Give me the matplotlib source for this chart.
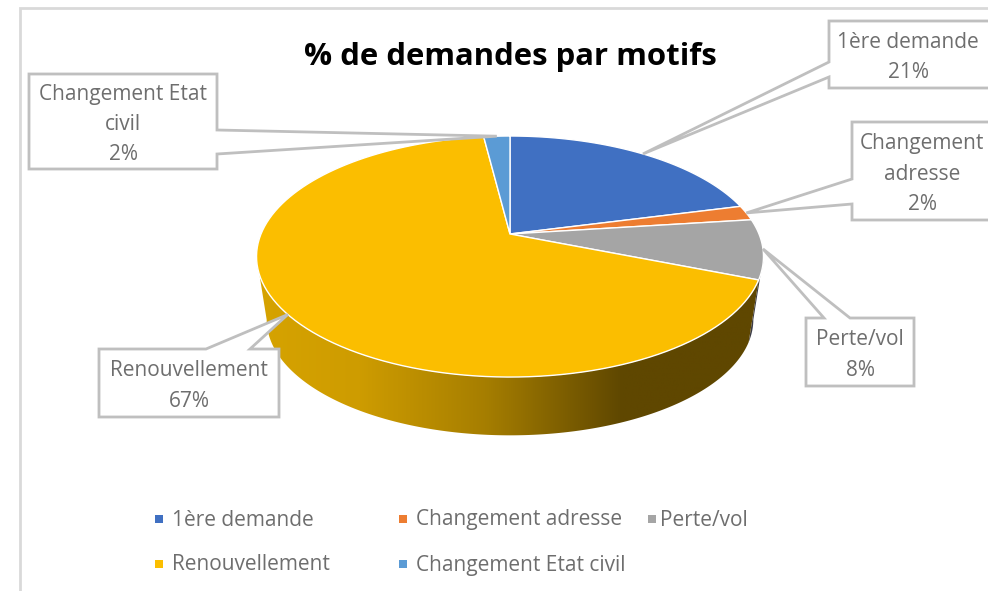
import numpy as np
import matplotlib
matplotlib.use("Agg")
import matplotlib.pyplot as plt
from matplotlib.patches import Polygon, Rectangle
from matplotlib.colors import LinearSegmentedColormap

plt.rcParams["font.family"] = ["Open Sans", "DejaVu Sans"]

# ====== data ======
categories = ["1ère demande", "Changement adresse", "Perte/vol", "Renouvellement", "Changement Etat civil"]
values = [21, 2, 8, 67, 2]
colors = ["#4070C2", "#ED7D31", "#A5A5A5", "#FBBE00", "#5B9BD5"]
side_colors = ["#2A4A80", "#8A4A1A", "#3C3C46", None, "#35597A"]
title = "% de demandes par motifs"

# ====== layout, in pixels of the picture ======
W, H = 988, 591
APEX_X, APEX_Y = 510, 234
RX, RY, PERSP = 249, 116.3, 0.187
SIDE_SCALE, SIDE_DROP = 0.96, 64
TEXT_GREY = "#6E6E6E"
BOX_GREY = "#BFBFBF"

# label box: left, right, top, bottom, pointer base (side, start, end)
boxes = [
    (829, 990, 21, 88, "left", 62, 77, ["1ère demande", "21%"]),
    (852, 995, 122, 220, "left", 179, 204, ["Changement", "adresse", "2%"]),
    (806, 914, 318, 386, "top", 824, 850, ["Perte/vol", "8%"]),
    (99, 279, 349, 417, "top", 206, 250, ["Renouvellement", "67%"]),
    (29, 217, 74, 169, "right", 130, 154, ["Changement Etat", "civil", "2%"]),
]
# legend: marker x, text x, row y
legend_pos = [(155, 172, 520), (399, 416, 520), (648, 660, 520), (155, 172, 565), (399, 416, 565)]


def rim(angle_deg):
    # pie rim in perspective, angle clockwise from the top
    a = np.deg2rad(angle_deg)
    u, v = np.sin(a), np.cos(a)
    d = 1 + PERSP * v
    return RX * u / d, RY * v / d


def top_xy(angle_deg):
    x, y = rim(angle_deg)
    return APEX_X + x, APEX_Y - y


def bottom_xy(angle_deg):
    x, y = rim(angle_deg)
    return APEX_X + SIDE_SCALE * x, APEX_Y - SIDE_SCALE * y + SIDE_DROP


fig = plt.figure(figsize=(W / 100, H / 100), dpi=100)
ax = fig.add_axes([0, 0, 1, 1])

# chart frame, open on the right and at the bottom
ax.plot([20, 20, W], [H, 8, 8], color="#D9D9D9", lw=2, solid_joinstyle="miter", zorder=1)

fracs = np.array(values) / sum(values) * 360
stops = np.concatenate([[0], np.cumsum(fracs)])

gold = LinearSegmentedColormap.from_list(
    "gold", [(0, "#D6A300"), (0.2, "#CE9C00"), (0.45, "#A67E00"), (0.72, "#5F4700"), (1, "#5F4700")]
)

# side wall, visible between the two widest points of the rim
wide_right = np.degrees(np.arccos(-PERSP))
wide_left = 360 - wide_right
for i in range(len(values)):
    start, end = max(stops[i], wide_right), min(stops[i + 1], wide_left)
    if end <= start:
        continue
    steps = np.linspace(start, end, 200)
    outline = [top_xy(a) for a in steps] + [bottom_xy(a) for a in steps[::-1]]
    wall = Polygon(outline, closed=True, facecolor=side_colors[i] or "none", edgecolor="none", zorder=2)
    ax.add_patch(wall)
    if side_colors[i] is None:
        # horizontal gradient clipped to the wall shape
        img = ax.imshow(np.linspace(0, 1, 512).reshape(1, -1), cmap=gold, vmin=0, vmax=1,
                        extent=(257, 764, 440, 130), aspect="auto", zorder=2, interpolation="bilinear")
        img.set_clip_path(wall)

# top face
for i in range(len(values)):
    angles = np.linspace(stops[i], stops[i + 1], 120)
    pts = [(APEX_X, APEX_Y)] + [top_xy(a) for a in angles]
    ax.add_patch(Polygon(pts, closed=True, facecolor=colors[i], edgecolor="white", lw=1, zorder=3))

# title
ax.text(510, 57, title, ha="center", va="center", fontsize=22.4, fontweight="bold", color="black", zorder=5)

# callouts, pointer ends on the middle of each slice rim
for i, (l, r, t, b, side, p0, p1, lines) in enumerate(boxes):
    tip = top_xy(0.5 * (stops[i] + stops[i + 1]))
    if side == "left":
        pts = [(l, t), (r, t), (r, b), (l, b), (l, p1), tip, (l, p0)]
    elif side == "right":
        pts = [(l, t), (r, t), (r, p0), tip, (r, p1), (r, b), (l, b)]
    else:
        pts = [(l, t), (p0, t), tip, (p1, t), (r, t), (r, b), (l, b)]
    ax.add_patch(Polygon(pts, closed=True, facecolor="white", edgecolor=BOX_GREY, lw=2,
                         joinstyle="miter", zorder=4))
    cx = {0: 908, 1: 922}.get(i, 0.5 * (l + r))
    ax.text(cx, 0.5 * (t + b) + 3, "\n".join(lines), ha="center", va="center", fontsize=15,
            color=TEXT_GREY, linespacing=1.58, zorder=5)

# legend
for (mx, tx, y), name, c in zip(legend_pos, categories, colors):
    ax.add_patch(Rectangle((mx, y - 5), 8, 8, facecolor=c, edgecolor="none", zorder=5))
    ax.text(tx, y, name, ha="left", va="center", fontsize=15, color=TEXT_GREY, zorder=5)

ax.set_xlim(0, W)
ax.set_ylim(H, 0)
ax.axis("off")

fig.savefig("out.png", dpi=100, facecolor="white")
